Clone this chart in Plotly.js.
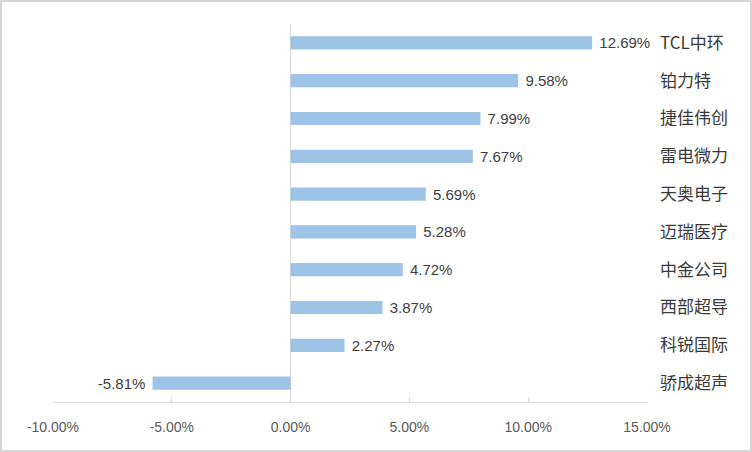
<!DOCTYPE html>
<html>
<head>
<meta charset="utf-8">
<script src="https://cdn.plot.ly/plotly-3.0.1.min.js"></script>
<style>
html,body{margin:0;padding:0;background:#fff;}
#chart{width:752px;height:452px;box-sizing:border-box;border:2px solid #d6d6d6;}
</style>
</head>
<body>
<div id="chart"></div>
<script>
const categories = ["TCL中环","铂力特","捷佳伟创","雷电微力","天奥电子","迈瑞医疗","中金公司","西部超导","科锐国际","骄成超声"];
const values = [12.69, 9.58, 7.99, 7.67, 5.69, 5.28, 4.72, 3.87, 2.27, -5.81];
const xTicks = [-10, -5, 0, 5, 10, 15];

const trace = {
  type: 'bar',
  orientation: 'h',
  y: categories,
  x: values,
  text: values.map(v => v >= 0 ? '\u00a0' + v.toFixed(2) + '%' : v.toFixed(2) + '%\u00a0'),
  textposition: 'outside',
  constraintext: 'none',
  cliponaxis: false,
  textfont: {family: 'Liberation Sans, Arial, sans-serif', size: 15, color: '#404040'},
  marker: {color: '#9DC3E6'},
  width: 0.35,
  hoverinfo: 'none'
};

const layout = {
  width: 748, height: 448,
  margin: {l: 51, r: 103, t: 22, b: 48},
  paper_bgcolor: '#fff', plot_bgcolor: '#fff',
  showlegend: false,
  font: {family: 'Liberation Sans, Arial, sans-serif'},
  xaxis: {
    range: [-10, 15],
    tickvals: xTicks,
    ticktext: xTicks.map(v => v.toFixed(2) + '%'),
    showgrid: false,
    zeroline: true, zerolinecolor: '#d9d9d9', zerolinewidth: 1,
    showline: true, linecolor: '#d9d9d9', linewidth: 1,
    ticks: 'inside', ticklen: 5, tickcolor: '#d9d9d9',
    tickfont: {size: 14, color: '#595959'},
    ticklabelstandoff: 12,
    fixedrange: true
  },
  yaxis: {
    side: 'right',
    autorange: 'reversed',
    type: 'category',
    showgrid: false, zeroline: false, showline: false,
    ticks: '',
    tickfont: {family: 'Noto Sans CJK SC', size: 17, color: '#3a3a3a'},
    ticklabelstandoff: 12,
    fixedrange: true
  }
};

Plotly.newPlot('chart', [trace], layout, {displayModeBar: false, staticPlot: true});
</script>
</body>
</html>
